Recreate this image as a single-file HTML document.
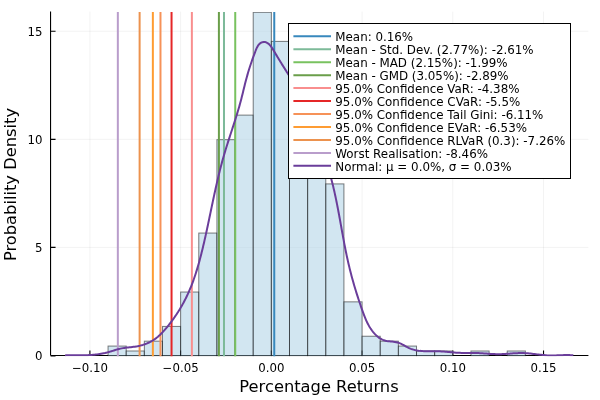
<!DOCTYPE html>
<html lang="en"><head><meta charset="utf-8"><title>Percentage Returns</title>
<style>html,body{margin:0;padding:0;background:#fff}svg{display:block}text{font-family:"DejaVu Sans", "Liberation Sans", sans-serif;fill:#000}</style></head><body>
<svg width="600" height="400" viewBox="0 0 600 400">
<rect width="600" height="400" fill="#fff"/>
<defs><clipPath id="pa"><rect x="49.95" y="12.00" width="539.05" height="344.25"/></clipPath></defs>
<path d="M89.90,11.60V355.50M180.62,11.60V355.50M271.35,11.60V355.50M362.08,11.60V355.50M452.80,11.60V355.50M543.53,11.60V355.50M50.55,355.50H588.40M50.55,247.41H588.40M50.55,139.33H588.40M50.55,31.25H588.40" stroke="#000" stroke-opacity="0.1" stroke-width="0.5" fill="none"/>
<path d="M50.55,355.50H588.40M50.55,11.60V355.50M89.90,355.50V350.50M180.62,355.50V350.50M271.35,355.50V350.50M362.08,355.50V350.50M452.80,355.50V350.50M543.53,355.50V350.50M50.55,355.90H55.55M50.55,247.41H55.55M50.55,139.33H55.55M50.55,31.25H55.55" stroke="#000" stroke-width="1.1" fill="none"/>
<g clip-path="url(#pa)">
<rect x="108.05" y="346.07" width="18.15" height="9.93" fill="#a6cee3" fill-opacity="0.5" stroke="#000" stroke-opacity="0.5" stroke-width="1"/>
<rect x="126.19" y="350.99" width="18.14" height="5.01" fill="#a6cee3" fill-opacity="0.5" stroke="#000" stroke-opacity="0.5" stroke-width="1"/>
<rect x="144.34" y="341.16" width="18.14" height="14.84" fill="#a6cee3" fill-opacity="0.5" stroke="#000" stroke-opacity="0.5" stroke-width="1"/>
<rect x="162.48" y="326.42" width="18.14" height="29.58" fill="#a6cee3" fill-opacity="0.5" stroke="#000" stroke-opacity="0.5" stroke-width="1"/>
<rect x="180.63" y="292.02" width="18.15" height="63.98" fill="#a6cee3" fill-opacity="0.5" stroke="#000" stroke-opacity="0.5" stroke-width="1"/>
<rect x="198.77" y="233.05" width="18.14" height="122.95" fill="#a6cee3" fill-opacity="0.5" stroke="#000" stroke-opacity="0.5" stroke-width="1"/>
<rect x="216.92" y="139.68" width="18.14" height="216.32" fill="#a6cee3" fill-opacity="0.5" stroke="#000" stroke-opacity="0.5" stroke-width="1"/>
<rect x="235.06" y="115.11" width="18.15" height="240.89" fill="#a6cee3" fill-opacity="0.5" stroke="#000" stroke-opacity="0.5" stroke-width="1"/>
<rect x="253.21" y="12.30" width="18.14" height="343.70" fill="#a6cee3" fill-opacity="0.5" stroke="#000" stroke-opacity="0.5" stroke-width="1"/>
<rect x="271.35" y="41.40" width="18.14" height="314.60" fill="#a6cee3" fill-opacity="0.5" stroke="#000" stroke-opacity="0.5" stroke-width="1"/>
<rect x="289.50" y="80.72" width="18.14" height="275.28" fill="#a6cee3" fill-opacity="0.5" stroke="#000" stroke-opacity="0.5" stroke-width="1"/>
<rect x="307.64" y="120.03" width="18.14" height="235.97" fill="#a6cee3" fill-opacity="0.5" stroke="#000" stroke-opacity="0.5" stroke-width="1"/>
<rect x="325.79" y="183.91" width="18.14" height="172.09" fill="#a6cee3" fill-opacity="0.5" stroke="#000" stroke-opacity="0.5" stroke-width="1"/>
<rect x="343.93" y="301.85" width="18.14" height="54.15" fill="#a6cee3" fill-opacity="0.5" stroke="#000" stroke-opacity="0.5" stroke-width="1"/>
<rect x="362.08" y="336.24" width="18.14" height="19.76" fill="#a6cee3" fill-opacity="0.5" stroke="#000" stroke-opacity="0.5" stroke-width="1"/>
<rect x="380.22" y="341.16" width="18.14" height="14.84" fill="#a6cee3" fill-opacity="0.5" stroke="#000" stroke-opacity="0.5" stroke-width="1"/>
<rect x="398.37" y="346.07" width="18.14" height="9.93" fill="#a6cee3" fill-opacity="0.5" stroke="#000" stroke-opacity="0.5" stroke-width="1"/>
<rect x="416.51" y="350.99" width="18.14" height="5.01" fill="#a6cee3" fill-opacity="0.5" stroke="#000" stroke-opacity="0.5" stroke-width="1"/>
<rect x="434.66" y="350.99" width="18.14" height="5.01" fill="#a6cee3" fill-opacity="0.5" stroke="#000" stroke-opacity="0.5" stroke-width="1"/>
<rect x="470.95" y="350.99" width="18.14" height="5.01" fill="#a6cee3" fill-opacity="0.5" stroke="#000" stroke-opacity="0.5" stroke-width="1"/>
<rect x="507.24" y="350.99" width="18.15" height="5.01" fill="#a6cee3" fill-opacity="0.5" stroke="#000" stroke-opacity="0.5" stroke-width="1"/>
<path d="M274.25,9.60V357.50" stroke="#3888bd" stroke-width="2" fill="none"/>
<path d="M223.99,9.60V357.50" stroke="#7dba99" stroke-width="2" fill="none"/>
<path d="M235.24,9.60V357.50" stroke="#78c25f" stroke-width="2" fill="none"/>
<path d="M218.91,9.60V357.50" stroke="#6a9e4a" stroke-width="2" fill="none"/>
<path d="M191.87,9.60V357.50" stroke="#f98e8e" stroke-width="2" fill="none"/>
<path d="M171.55,9.60V357.50" stroke="#e52627" stroke-width="2" fill="none"/>
<path d="M160.48,9.60V357.50" stroke="#f69258" stroke-width="2" fill="none"/>
<path d="M152.86,9.60V357.50" stroke="#fe9c32" stroke-width="2" fill="none"/>
<path d="M139.62,9.60V357.50" stroke="#ec924e" stroke-width="2" fill="none"/>
<path d="M117.84,9.60V357.50" stroke="#b99dcb" stroke-width="2" fill="none"/>
<path d="M65.00,355.40 L66.33,355.37 L67.66,355.35 L69.00,355.34 L70.33,355.33 L71.67,355.33 L73.01,355.32 L74.34,355.32 L75.68,355.32 L77.02,355.32 L78.36,355.32 L79.70,355.31 L81.04,355.30 L82.38,355.28 L83.72,355.26 L85.06,355.23 L86.39,355.18 L87.73,355.13 L89.07,355.07 L90.40,354.99 L91.73,354.90 L93.06,354.80 L94.39,354.68 L95.72,354.54 L97.04,354.38 L98.37,354.20 L99.68,354.01 L101.00,353.79 L102.31,353.55 L103.62,353.29 L104.93,353.01 L106.23,352.70 L107.52,352.37 L108.82,352.01 L110.10,351.63 L111.39,351.24 L112.67,350.84 L113.95,350.44 L115.24,350.04 L116.52,349.66 L117.80,349.29 L119.09,348.95 L120.39,348.64 L121.68,348.37 L122.99,348.13 L124.30,347.92 L125.61,347.74 L126.93,347.58 L128.25,347.43 L129.57,347.28 L130.89,347.14 L132.22,346.99 L133.54,346.83 L134.86,346.65 L136.19,346.44 L137.51,346.21 L138.83,345.94 L140.15,345.64 L141.45,345.30 L142.75,344.92 L144.04,344.50 L145.32,344.05 L146.58,343.57 L147.82,343.04 L149.05,342.48 L150.25,341.89 L151.43,341.25 L152.58,340.58 L153.70,339.87 L154.80,339.13 L155.87,338.35 L156.91,337.54 L157.93,336.70 L158.92,335.83 L159.90,334.93 L160.85,334.01 L161.79,333.07 L162.70,332.11 L163.61,331.13 L164.49,330.14 L165.37,329.13 L166.23,328.11 L167.09,327.09 L167.93,326.05 L168.77,325.01 L169.60,323.96 L170.42,322.90 L171.23,321.83 L172.03,320.76 L172.82,319.68 L173.60,318.59 L174.37,317.50 L175.13,316.40 L175.89,315.29 L176.63,314.18 L177.36,313.06 L178.09,311.93 L178.80,310.80 L179.50,309.66 L180.20,308.51 L180.88,307.36 L181.55,306.21 L182.22,305.04 L182.87,303.88 L183.51,302.70 L184.14,301.52 L184.76,300.34 L185.37,299.15 L185.97,297.96 L186.55,296.76 L187.13,295.55 L187.69,294.35 L188.25,293.13 L188.79,291.92 L189.32,290.70 L189.85,289.47 L190.36,288.24 L190.86,287.01 L191.36,285.77 L191.84,284.53 L192.32,283.28 L192.79,282.03 L193.25,280.78 L193.70,279.53 L194.14,278.27 L194.57,277.01 L195.00,275.74 L195.42,274.48 L195.83,273.21 L196.24,271.93 L196.64,270.66 L197.03,269.38 L197.41,268.10 L197.79,266.82 L198.17,265.53 L198.53,264.25 L198.90,262.96 L199.25,261.67 L199.61,260.38 L199.95,259.08 L200.30,257.79 L200.63,256.49 L200.97,255.20 L201.30,253.90 L201.62,252.60 L201.95,251.30 L202.27,250.00 L202.58,248.70 L202.89,247.40 L203.20,246.09 L203.51,244.79 L203.82,243.49 L204.12,242.18 L204.42,240.88 L204.72,239.57 L205.01,238.27 L205.31,236.96 L205.60,235.65 L205.89,234.35 L206.17,233.04 L206.46,231.73 L206.74,230.42 L207.02,229.11 L207.31,227.81 L207.59,226.50 L207.86,225.19 L208.14,223.88 L208.42,222.57 L208.69,221.26 L208.97,219.95 L209.24,218.64 L209.52,217.33 L209.79,216.02 L210.06,214.71 L210.33,213.40 L210.61,212.09 L210.88,210.79 L211.15,209.48 L211.42,208.17 L211.70,206.86 L211.97,205.55 L212.24,204.24 L212.52,202.93 L212.79,201.62 L213.07,200.32 L213.35,199.01 L213.62,197.70 L213.90,196.40 L214.18,195.09 L214.46,193.78 L214.75,192.48 L215.03,191.17 L215.32,189.87 L215.61,188.56 L215.90,187.26 L216.19,185.96 L216.48,184.66 L216.78,183.35 L217.08,182.05 L217.38,180.75 L217.68,179.45 L217.99,178.15 L218.29,176.86 L218.61,175.56 L218.92,174.26 L219.24,172.97 L219.56,171.67 L219.88,170.38 L220.21,169.09 L220.54,167.79 L220.87,166.50 L221.21,165.21 L221.55,163.92 L221.90,162.63 L222.25,161.35 L222.60,160.06 L222.96,158.78 L223.32,157.49 L223.69,156.21 L224.06,154.93 L224.43,153.65 L224.81,152.37 L225.20,151.09 L225.58,149.81 L225.98,148.54 L226.37,147.26 L226.77,145.99 L227.17,144.71 L227.57,143.44 L227.98,142.17 L228.38,140.89 L228.79,139.62 L229.20,138.35 L229.62,137.08 L230.03,135.81 L230.44,134.54 L230.86,133.27 L231.27,131.99 L231.69,130.72 L232.11,129.45 L232.52,128.18 L232.93,126.91 L233.35,125.63 L233.76,124.36 L234.17,123.09 L234.58,121.81 L234.99,120.54 L235.39,119.26 L235.79,117.98 L236.19,116.70 L236.59,115.43 L236.98,114.14 L237.37,112.86 L237.76,111.58 L238.14,110.30 L238.52,109.01 L238.90,107.72 L239.27,106.43 L239.63,105.14 L239.99,103.85 L240.35,102.56 L240.70,101.26 L241.04,99.96 L241.38,98.66 L241.71,97.36 L242.03,96.06 L242.36,94.76 L242.68,93.45 L243.00,92.15 L243.31,90.85 L243.63,89.54 L243.94,88.24 L244.26,86.94 L244.58,85.64 L244.90,84.35 L245.23,83.06 L245.56,81.77 L245.89,80.48 L246.23,79.20 L246.58,77.92 L246.93,76.65 L247.29,75.38 L247.65,74.11 L248.02,72.84 L248.40,71.58 L248.79,70.31 L249.18,69.05 L249.58,67.79 L249.98,66.53 L250.39,65.26 L250.81,64.00 L251.24,62.74 L251.67,61.47 L252.12,60.20 L252.56,58.93 L253.02,57.66 L253.49,56.38 L253.96,55.10 L254.44,53.82 L254.93,52.53 L255.42,51.24 L255.93,49.94 L256.46,48.66 L257.03,47.41 L257.67,46.23 L258.38,45.14 L259.20,44.16 L260.13,43.32 L261.21,42.65 L262.43,42.16 L263.74,41.94 L265.03,42.02 L266.27,42.41 L267.46,43.04 L268.56,43.86 L269.59,44.81 L270.52,45.84 L271.35,46.91 L272.12,48.02 L272.83,49.15 L273.52,50.29 L274.20,51.44 L274.88,52.58 L275.56,53.72 L276.25,54.87 L276.93,56.01 L277.62,57.15 L278.31,58.29 L279.00,59.43 L279.70,60.57 L280.39,61.71 L281.09,62.85 L281.80,63.98 L282.51,65.12 L283.21,66.25 L283.93,67.38 L284.64,68.52 L285.35,69.65 L286.07,70.78 L286.78,71.91 L287.49,73.04 L288.21,74.17 L288.92,75.31 L289.63,76.44 L290.34,77.58 L291.05,78.72 L291.75,79.85 L292.45,80.99 L293.15,82.14 L293.84,83.28 L294.52,84.43 L295.21,85.58 L295.88,86.73 L296.55,87.89 L297.22,89.05 L297.87,90.21 L298.52,91.38 L299.17,92.55 L299.80,93.72 L300.42,94.90 L301.04,96.08 L301.65,97.27 L302.25,98.46 L302.84,99.66 L303.42,100.86 L304.00,102.06 L304.57,103.27 L305.13,104.48 L305.68,105.69 L306.23,106.91 L306.77,108.13 L307.30,109.35 L307.83,110.58 L308.35,111.81 L308.87,113.04 L309.38,114.28 L309.88,115.51 L310.38,116.75 L310.88,118.00 L311.37,119.24 L311.85,120.49 L312.33,121.74 L312.81,122.99 L313.28,124.24 L313.75,125.49 L314.22,126.75 L314.68,128.01 L315.14,129.27 L315.59,130.53 L316.04,131.79 L316.49,133.05 L316.94,134.31 L317.39,135.58 L317.83,136.84 L318.27,138.11 L318.71,139.37 L319.15,140.64 L319.59,141.90 L320.03,143.17 L320.46,144.44 L320.90,145.70 L321.33,146.97 L321.76,148.24 L322.19,149.50 L322.62,150.77 L323.05,152.04 L323.47,153.31 L323.90,154.58 L324.32,155.85 L324.73,157.12 L325.15,158.39 L325.56,159.66 L325.97,160.93 L326.37,162.20 L326.78,163.48 L327.17,164.75 L327.57,166.03 L327.96,167.31 L328.34,168.58 L328.73,169.86 L329.10,171.14 L329.47,172.42 L329.84,173.71 L330.20,174.99 L330.56,176.28 L330.91,177.56 L331.26,178.85 L331.60,180.14 L331.93,181.43 L332.26,182.73 L332.58,184.02 L332.90,185.32 L333.22,186.61 L333.52,187.91 L333.83,189.21 L334.13,190.51 L334.42,191.82 L334.71,193.12 L335.00,194.42 L335.28,195.73 L335.56,197.03 L335.83,198.34 L336.11,199.65 L336.37,200.96 L336.64,202.27 L336.90,203.58 L337.16,204.89 L337.42,206.20 L337.67,207.52 L337.93,208.83 L338.18,210.14 L338.42,211.46 L338.67,212.77 L338.92,214.09 L339.16,215.41 L339.40,216.72 L339.64,218.04 L339.88,219.36 L340.12,220.67 L340.36,221.99 L340.60,223.31 L340.83,224.62 L341.07,225.94 L341.31,227.26 L341.54,228.58 L341.78,229.90 L342.02,231.21 L342.26,232.53 L342.50,233.85 L342.74,235.17 L342.98,236.48 L343.22,237.80 L343.46,239.11 L343.71,240.43 L343.96,241.75 L344.20,243.06 L344.45,244.37 L344.71,245.69 L344.96,247.00 L345.22,248.31 L345.48,249.63 L345.75,250.94 L346.01,252.25 L346.28,253.56 L346.55,254.86 L346.83,256.17 L347.11,257.48 L347.39,258.78 L347.68,260.09 L347.97,261.39 L348.27,262.70 L348.57,264.00 L348.88,265.30 L349.19,266.60 L349.50,267.89 L349.82,269.19 L350.14,270.48 L350.47,271.78 L350.80,273.07 L351.14,274.36 L351.48,275.65 L351.83,276.94 L352.18,278.23 L352.53,279.52 L352.89,280.80 L353.26,282.09 L353.62,283.37 L354.00,284.66 L354.37,285.94 L354.75,287.22 L355.13,288.50 L355.52,289.78 L355.91,291.05 L356.31,292.33 L356.71,293.61 L357.11,294.88 L357.52,296.15 L357.93,297.43 L358.34,298.70 L358.76,299.97 L359.18,301.24 L359.61,302.51 L360.03,303.78 L360.47,305.04 L360.90,306.31 L361.34,307.57 L361.78,308.84 L362.23,310.10 L362.67,311.36 L363.13,312.62 L363.59,313.88 L364.06,315.13 L364.55,316.38 L365.04,317.62 L365.55,318.85 L366.08,320.08 L366.63,321.29 L367.20,322.50 L367.80,323.69 L368.42,324.86 L369.06,326.03 L369.74,327.18 L370.45,328.31 L371.19,329.42 L371.97,330.52 L372.78,331.59 L373.64,332.64 L374.53,333.67 L375.46,334.65 L376.43,335.59 L377.44,336.48 L378.48,337.31 L379.56,338.07 L380.68,338.76 L381.84,339.37 L383.04,339.90 L384.27,340.32 L385.53,340.66 L386.83,340.93 L388.15,341.14 L389.48,341.31 L390.83,341.46 L392.18,341.61 L393.53,341.76 L394.87,341.95 L396.20,342.19 L397.52,342.49 L398.81,342.88 L400.07,343.35 L401.31,343.91 L402.53,344.52 L403.74,345.18 L404.94,345.85 L406.14,346.53 L407.34,347.18 L408.55,347.79 L409.77,348.34 L411.00,348.84 L412.25,349.27 L413.51,349.65 L414.78,349.98 L416.06,350.27 L417.35,350.51 L418.64,350.71 L419.95,350.87 L421.27,351.00 L422.59,351.11 L423.92,351.18 L425.25,351.24 L426.59,351.27 L427.93,351.29 L429.27,351.30 L430.62,351.30 L431.97,351.29 L433.32,351.29 L434.66,351.29 L436.01,351.29 L437.36,351.30 L438.70,351.32 L440.04,351.37 L441.38,351.43 L442.72,351.50 L444.05,351.60 L445.38,351.70 L446.70,351.81 L448.03,351.93 L449.35,352.05 L450.68,352.18 L452.00,352.30 L453.32,352.42 L454.64,352.53 L455.97,352.63 L457.29,352.72 L458.62,352.79 L459.95,352.85 L461.28,352.89 L462.61,352.91 L463.94,352.93 L465.28,352.94 L466.61,352.94 L467.95,352.93 L469.29,352.93 L470.62,352.93 L471.96,352.93 L473.30,352.93 L474.63,352.95 L475.97,352.97 L477.31,353.01 L478.64,353.07 L479.97,353.14 L481.30,353.22 L482.64,353.31 L483.97,353.40 L485.30,353.50 L486.63,353.60 L487.96,353.71 L489.28,353.80 L490.61,353.89 L491.94,353.98 L493.27,354.05 L494.60,354.11 L495.93,354.15 L497.26,354.18 L498.59,354.18 L499.93,354.16 L501.26,354.13 L502.59,354.07 L503.93,354.01 L505.26,353.93 L506.60,353.84 L507.93,353.74 L509.27,353.65 L510.60,353.55 L511.94,353.45 L513.28,353.36 L514.61,353.27 L515.95,353.19 L517.28,353.13 L518.62,353.08 L519.95,353.05 L521.28,353.03 L522.62,353.05 L523.95,353.08 L525.28,353.14 L526.61,353.23 L527.94,353.33 L529.27,353.45 L530.60,353.59 L531.93,353.73 L533.26,353.89 L534.58,354.05 L535.91,354.21 L537.24,354.38 L538.57,354.54 L539.90,354.70 L541.23,354.85 L542.56,354.99 L543.89,355.11 L545.23,355.22 L546.56,355.32 L547.89,355.39 L549.23,355.43 L550.57,355.45 L551.90,355.46 L553.24,355.44 L554.58,355.41 L555.92,355.38 L557.26,355.33 L558.60,355.28 L559.94,355.23 L561.28,355.18 L562.62,355.14 L563.95,355.10 L565.29,355.08 L566.63,355.07 L567.97,355.08 L569.30,355.11 L570.64,355.16 L571.97,355.25 L573.30,355.36" stroke="#6a3d9a" stroke-width="2" fill="none" stroke-linejoin="round"/>
</g>
<text x="89.90" y="371.5" font-size="11.75" text-anchor="middle">−0.10</text>
<text x="180.62" y="371.5" font-size="11.75" text-anchor="middle">−0.05</text>
<text x="271.35" y="371.5" font-size="11.75" text-anchor="middle">0.00</text>
<text x="362.08" y="371.5" font-size="11.75" text-anchor="middle">0.05</text>
<text x="452.80" y="371.5" font-size="11.75" text-anchor="middle">0.10</text>
<text x="543.53" y="371.5" font-size="11.75" text-anchor="middle">0.15</text>
<text x="42.5" y="360.30" font-size="11.75" text-anchor="end">0</text>
<text x="42.5" y="252.22" font-size="11.75" text-anchor="end">5</text>
<text x="42.5" y="144.13" font-size="11.75" text-anchor="end">10</text>
<text x="42.5" y="36.05" font-size="11.75" text-anchor="end">15</text>
<text x="319.0" y="391.6" font-size="16.3" text-anchor="middle">Percentage Returns</text>
<text transform="translate(16.1,184.5) rotate(-90)" font-size="16.3" text-anchor="middle">Probability Density</text>
<rect x="288.5" y="23.5" width="282" height="155" fill="#fff" stroke="#000" stroke-width="1"/>
<path d="M293.4,36.25H331" stroke="#3888bd" stroke-width="2" fill="none"/>
<text x="335.3" y="40.85" font-size="11.88">Mean: 0.16%</text>
<path d="M293.4,49.21H331" stroke="#7dba99" stroke-width="2" fill="none"/>
<text x="335.3" y="53.84" font-size="11.88">Mean - Std. Dev. (2.77%): -2.61%</text>
<path d="M293.4,62.17H331" stroke="#78c25f" stroke-width="2" fill="none"/>
<text x="335.3" y="66.84" font-size="11.88">Mean - MAD (2.15%): -1.99%</text>
<path d="M293.4,75.13H331" stroke="#6a9e4a" stroke-width="2" fill="none"/>
<text x="335.3" y="79.84" font-size="11.88">Mean - GMD (3.05%): -2.89%</text>
<path d="M293.4,88.09H331" stroke="#f98e8e" stroke-width="2" fill="none"/>
<text x="335.3" y="92.83" font-size="11.88">95.0% Confidence VaR: -4.38%</text>
<path d="M293.4,101.05H331" stroke="#e52627" stroke-width="2" fill="none"/>
<text x="335.3" y="105.82" font-size="11.88">95.0% Confidence CVaR: -5.5%</text>
<path d="M293.4,114.01H331" stroke="#f69258" stroke-width="2" fill="none"/>
<text x="335.3" y="118.82" font-size="11.88">95.0% Confidence Tail Gini: -6.11%</text>
<path d="M293.4,126.97H331" stroke="#fe9c32" stroke-width="2" fill="none"/>
<text x="335.3" y="131.81" font-size="11.88">95.0% Confidence EVaR: -6.53%</text>
<path d="M293.4,139.93H331" stroke="#ec924e" stroke-width="2" fill="none"/>
<text x="335.3" y="144.81" font-size="11.88">95.0% Confidence RLVaR (0.3): -7.26%</text>
<path d="M293.4,152.89H331" stroke="#b99dcb" stroke-width="2" fill="none"/>
<text x="335.3" y="157.81" font-size="11.88">Worst Realisation: -8.46%</text>
<path d="M293.4,165.85H331" stroke="#6a3d9a" stroke-width="2" fill="none"/>
<text x="335.3" y="170.80" font-size="11.88">Normal: μ = 0.0%, σ = 0.03%</text>
</svg></body></html>
